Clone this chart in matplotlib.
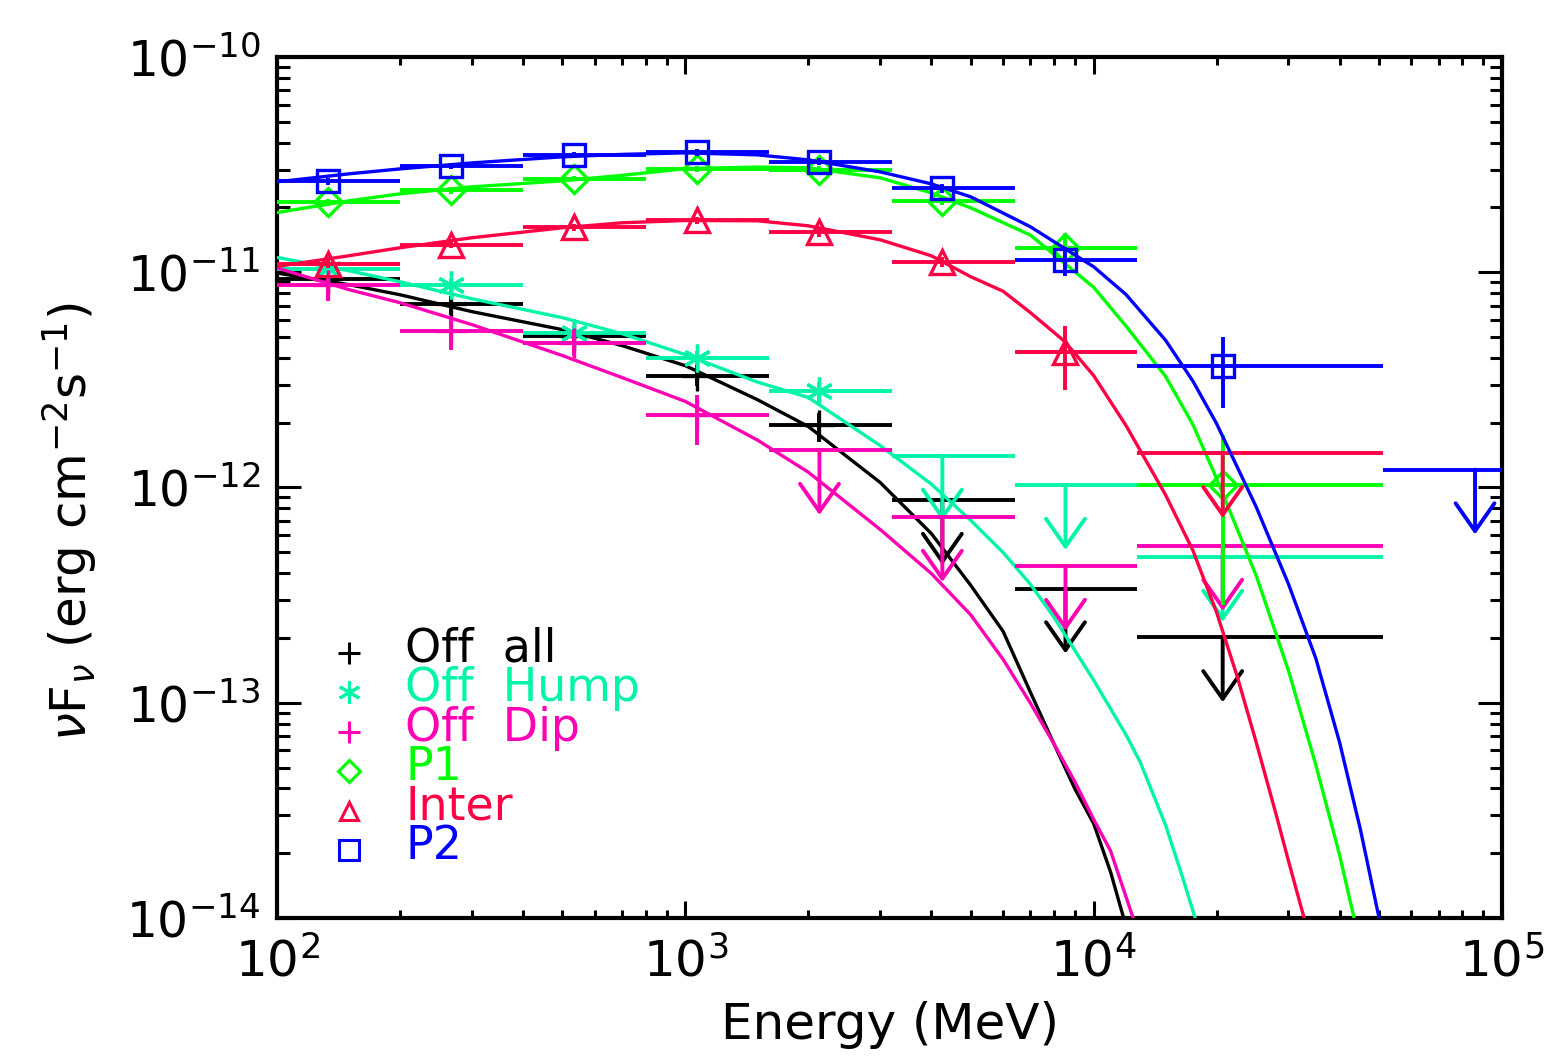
import matplotlib
matplotlib.use('Agg')
import matplotlib.pyplot as plt
import numpy as np

# energy bins (MeV): lower edge, upper edge, plotted energy
E_LO = [100, 200, 400, 800, 1600, 3200, 6400, 12800, 51200]
E_HI = [200, 400, 800, 1600, 3200, 6400, 12800, 51200, 100000]
E_PT = [133, 267, 533, 1067, 2130, 4260, 8530, 20700, 85900]

# Off all (black)
OFFALL_BINS = [0, 1, 2, 3, 4]
OFFALL_F = [9.3e-12, 7.14e-12, 5.04e-12, 3.31e-12, 1.95e-12]
OFFALL_FLO = [8.6e-12, 6.35e-12, 4.55e-12, 2.95e-12, 1.62e-12]
OFFALL_FHI = [1.0e-11, 7.72e-12, 5.55e-12, 3.80e-12, 2.23e-12]
OFFALL_UL_BINS = [5, 6, 7]
OFFALL_UL = [8.73e-13, 3.39e-13, 2.01e-13]

# Off Hump (aquamarine)
HUMP_BINS = [0, 1, 2, 3, 4]
HUMP_F = [1.035e-11, 8.69e-12, 5.22e-12, 4.0e-12, 2.8e-12]
HUMP_FLO = [9.7e-12, 8.1e-12, 4.85e-12, 3.7e-12, 2.5e-12]
HUMP_FHI = [1.1e-11, 9.3e-12, 5.6e-12, 4.3e-12, 3.1e-12]
HUMP_UL_BINS = [5, 6, 7]
HUMP_UL = [1.40e-12, 1.025e-12, 4.75e-13]

# Off Dip (magenta)
DIP_BINS = [0, 1, 2, 3]
DIP_F = [8.69e-12, 5.31e-12, 4.69e-12, 2.16e-12]
DIP_FLO = [7.32e-12, 4.37e-12, 4.07e-12, 1.58e-12]
DIP_FHI = [9.56e-12, 6.24e-12, 5.41e-12, 2.70e-12]
DIP_UL_BINS = [4, 5, 6, 7]
DIP_UL = [1.49e-12, 7.28e-13, 4.31e-13, 5.34e-13]

# P1 (green)
P1_BINS = [0, 1, 2, 3, 4, 5, 6, 7]
P1_F = [2.11e-11, 2.40e-11, 2.72e-11, 3.02e-11, 3.0e-11, 2.15e-11, 1.295e-11, 1.03e-12]
P1_FLO = [2.03e-11, 2.32e-11, 2.64e-11, 2.93e-11, 2.9e-11, 2.05e-11, 1.08e-11, 2.83e-13]
P1_FHI = [2.19e-11, 2.48e-11, 2.80e-11, 3.11e-11, 3.1e-11, 2.25e-11, 1.525e-11, 1.76e-12]
P1_UL_BINS = []
P1_UL = []

# Inter (red)
INTER_BINS = [0, 1, 2, 3, 4, 5, 6]
INTER_F = [1.095e-11, 1.34e-11, 1.62e-11, 1.74e-11, 1.53e-11, 1.12e-11, 4.24e-12]
INTER_FLO = [1.05e-11, 1.29e-11, 1.56e-11, 1.68e-11, 1.46e-11, 1.06e-11, 2.85e-12]
INTER_FHI = [1.14e-11, 1.39e-11, 1.68e-11, 1.80e-11, 1.60e-11, 1.18e-11, 5.60e-12]
INTER_UL_BINS = [7]
INTER_UL = [1.44e-12]

# P2 (blue)
P2_BINS = [0, 1, 2, 3, 4, 5, 6, 7]
P2_F = [2.64e-11, 3.13e-11, 3.51e-11, 3.60e-11, 3.26e-11, 2.45e-11, 1.14e-11, 3.66e-12]
P2_FLO = [2.55e-11, 3.03e-11, 3.40e-11, 3.48e-11, 3.14e-11, 2.33e-11, 9.63e-12, 2.34e-12]
P2_FHI = [2.73e-11, 3.23e-11, 3.62e-11, 3.72e-11, 3.38e-11, 2.57e-11, 1.31e-11, 4.98e-12]
P2_UL_BINS = [8]
P2_UL = [1.21e-12]

# fitted model curves
OFFALL_CE = [100, 150, 200, 300, 500, 700, 1000, 1500, 2000, 3000, 4000, 5000, 6000, 7000,
             8000, 9000, 10000, 11000, 11840]
OFFALL_CF = [9.91e-12, 8.75e-12, 7.86e-12, 6.56e-12, 5.41e-12, 4.56e-12, 3.68e-12, 2.56e-12,
             1.92e-12, 1.055e-12, 6.12e-13, 3.51e-13, 2.147e-13, 1.118e-13, 6.42e-14, 3.97e-14,
             2.745e-14, 1.635e-14, 1.0e-14]
HUMP_CE = [100, 150, 200, 300, 500, 700, 1000, 1500, 2000, 3000, 4000, 5000, 6000, 7000, 8000,
           10000, 12000, 13000, 15000, 16500, 17720]
HUMP_CF = [1.171e-11, 1.016e-11, 9.03e-12, 7.53e-12, 6.15e-12, 5.18e-12, 4.14e-12, 3.09e-12,
           2.62e-12, 1.566e-12, 1.038e-12, 7.03e-13, 4.99e-13, 3.55e-13, 2.49e-13, 1.272e-13,
           7.1e-14, 5.3e-14, 2.70e-14, 1.55e-14, 1.0e-14]
DIP_CE = [100, 150, 200, 300, 500, 700, 1000, 1500, 2000, 3000, 4000, 5000, 6000, 7000, 8000,
          9000, 10000, 11000, 12490]
DIP_CF = [1.046e-11, 8.30e-12, 7.22e-12, 5.71e-12, 4.10e-12, 3.24e-12, 2.51e-12, 1.662e-12,
          1.178e-12, 6.38e-13, 3.99e-13, 2.56e-13, 1.59e-13, 9.95e-14, 6.42e-14, 4.28e-14,
          2.87e-14, 2.05e-14, 1.0e-14]
P1_CE = [100, 150, 200, 300, 500, 700, 1000, 1500, 2000, 3000, 4000, 5000, 7000, 10000, 12000,
         15000, 17500, 20000, 25000, 30000, 35000, 40000, 43420]
P1_CF = [1.894e-11, 2.147e-11, 2.313e-11, 2.493e-11, 2.658e-11, 2.818e-11, 3.03e-11, 3.08e-11,
         3.055e-11, 2.745e-11, 2.338e-11, 1.991e-11, 1.487e-11, 8.51e-12, 5.62e-12, 3.28e-12,
         1.96e-12, 1.10e-12, 3.90e-13, 1.41e-13, 5.14e-14, 1.97e-14, 1.0e-14]
INTER_CE = [100, 150, 200, 300, 500, 700, 1000, 1500, 2000, 3000, 4000, 5000, 6000, 7000, 8500,
            10000, 12000, 15000, 17500, 20000, 22500, 25000, 28000, 30000, 32760]
INTER_CF = [1.064e-11, 1.193e-11, 1.299e-11, 1.446e-11, 1.609e-11, 1.697e-11, 1.739e-11, 1.734e-11,
            1.643e-11, 1.415e-11, 1.193e-11, 9.53e-12, 8.16e-12, 6.49e-12, 4.76e-12, 3.31e-12,
            1.94e-12, 9.23e-13, 5.10e-13, 2.63e-13, 1.313e-13, 6.56e-14, 3.01e-14, 1.84e-14,
            1.0e-14]
P2_CE = [100, 150, 200, 300, 500, 700, 1000, 1500, 2000, 3000, 4000, 5000, 7000, 10000, 12000,
         15000, 17500, 20000, 25000, 30000, 35000, 40000, 45000, 50000]
P2_CF = [2.63e-11, 2.865e-11, 3.02e-11, 3.22e-11, 3.436e-11, 3.528e-11, 3.585e-11, 3.51e-11,
         3.327e-11, 2.926e-11, 2.574e-11, 2.24e-11, 1.626e-11, 1.06e-11, 7.88e-12, 4.83e-12,
         3.12e-12, 1.98e-12, 8.13e-13, 3.56e-13, 1.607e-13, 6.57e-14, 2.58e-14, 1.0e-14]

LABELS = ['Off  all', 'Off  Hump', 'Off  Dip', 'P1', 'Inter', 'P2']
COLORS = ['#000000', '#00F5A8', '#FF00B4', '#00FF00', '#FF0044', '#0000FF']
MARKERS = ['+', (6, 2, 0), '+', 'D', '^', 's']

series = [
    (OFFALL_BINS, OFFALL_F, OFFALL_FLO, OFFALL_FHI, OFFALL_UL_BINS, OFFALL_UL, OFFALL_CE, OFFALL_CF),
    (HUMP_BINS, HUMP_F, HUMP_FLO, HUMP_FHI, HUMP_UL_BINS, HUMP_UL, HUMP_CE, HUMP_CF),
    (DIP_BINS, DIP_F, DIP_FLO, DIP_FHI, DIP_UL_BINS, DIP_UL, DIP_CE, DIP_CF),
    (P1_BINS, P1_F, P1_FLO, P1_FHI, P1_UL_BINS, P1_UL, P1_CE, P1_CF),
    (INTER_BINS, INTER_F, INTER_FLO, INTER_FHI, INTER_UL_BINS, INTER_UL, INTER_CE, INTER_CF),
    (P2_BINS, P2_F, P2_FLO, P2_FHI, P2_UL_BINS, P2_UL, P2_CE, P2_CF),
]

e_lo = np.array(E_LO, float)
e_hi = np.array(E_HI, float)
e_pt = np.array(E_PT, float)

fig = plt.figure(figsize=(15.47, 10.61), dpi=100)
ax = fig.add_axes([0.1791, 0.1348, 0.7918, 0.8115])
ax.set_xscale('log')
ax.set_yscale('log')

MSIZE = {'+': 22, 'D': 14, '^': 17, 's': 16}

for k, (bins, f, flo, fhi, ulb, ul, ce, cf) in enumerate(series):
    c = COLORS[k]
    m = MARKERS[k]
    z = 3 + k
    b = np.array(bins, int)
    f = np.array(f)
    x = e_pt[b]
    ms = 20 if isinstance(m, tuple) else MSIZE[m]
    ax.errorbar(x, f, xerr=[x - e_lo[b], e_hi[b] - x],
                yerr=[f - np.array(flo), np.array(fhi) - f],
                fmt='none', ecolor=c, elinewidth=2.8, capsize=0, zorder=z)
    ax.plot(x, f, ls='none', marker=m, ms=ms, mfc='none', mec=c, mew=2.4, zorder=z)
    if len(ulb):
        ub = np.array(ulb, int)
        ax.hlines(ul, e_lo[ub], e_hi[ub], colors=c, lw=2.8, zorder=z)
        # upper limits: arrow down to half the limit
        for xu, u in zip(e_pt[ub], ul):
            ax.annotate('', xy=(xu, u / 2), xytext=(xu, u),
                        arrowprops=dict(arrowstyle='->,head_length=0.5,head_width=0.35',
                                        color=c, lw=2.8, shrinkA=0, shrinkB=0,
                                        mutation_scale=40),
                        zorder=z, annotation_clip=False)
    ax.plot(ce, cf, color=c, lw=2.4, zorder=z, solid_joinstyle='round')

ax.set_xlim(100, 1e5)
ax.set_ylim(1e-14, 1e-10)
ax.set_xticks([1e2, 1e3, 1e4, 1e5])
ax.set_yticks([1e-14, 1e-13, 1e-12, 1e-11, 1e-10])

for s in ax.spines.values():
    s.set_linewidth(3)
ax.tick_params(which='both', direction='in', top=True, right=True, width=2.2)
ax.tick_params(axis='y', which='major', length=17, labelsize=35, pad=12)
ax.tick_params(axis='y', which='minor', length=9)
ax.tick_params(axis='x', which='major', length=12, labelsize=36, pad=14)
ax.tick_params(axis='x', which='minor', length=6)

ax.set_xlabel('Energy (MeV)', fontsize=36, labelpad=10)
ax.set_ylabel(r'$\nu$F$_\nu$ (erg cm$^{-2}$s$^{-1}$)', fontsize=36)
ax.yaxis.set_label_coords(-0.145, 0.46)

# legend drawn by hand, like the original
for k, lab in enumerate(LABELS):
    yb = (918 - (661.7 + 39.5 * k)) / 861.0
    ax.text(0.1045, yb, lab, transform=ax.transAxes, color=COLORS[k],
            fontsize=33, va='baseline', ha='left', zorder=20)
    m = MARKERS[k]
    ms = 16 if isinstance(m, tuple) else {'+': 16, 'D': 11, '^': 13, 's': 14}[m]
    ax.plot([0.0588], [yb + 9.0 / 861.0], transform=ax.transAxes, ls='none', marker=m,
            ms=ms, mfc='none', mec=COLORS[k], mew=2.2, clip_on=False, zorder=20)

fig.savefig('out.png', dpi=100)
